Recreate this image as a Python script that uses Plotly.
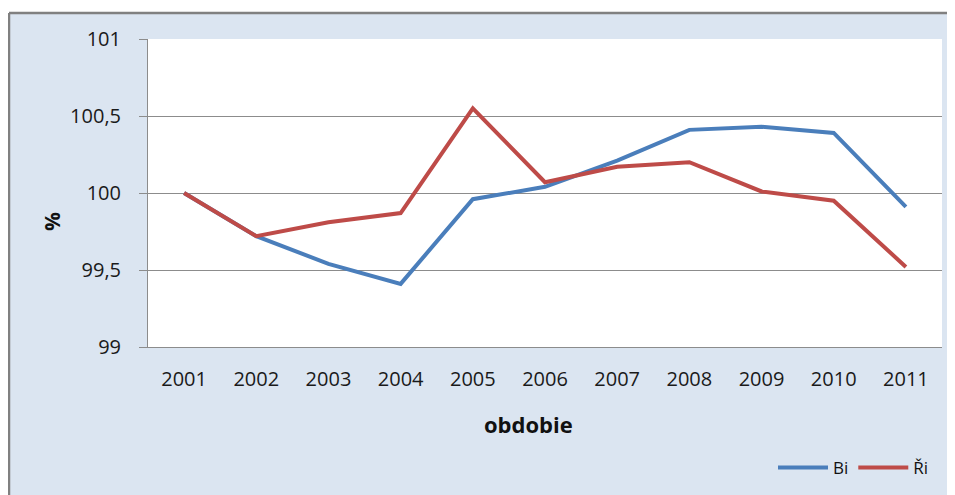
import plotly.graph_objects as go

years = ["2001", "2002", "2003", "2004", "2005", "2006", "2007", "2008", "2009", "2010", "2011"]
bi = [100.0, 99.72, 99.54, 99.41, 99.96, 100.04, 100.21, 100.41, 100.43, 100.39, 99.91]
ri = [100.0, 99.72, 99.81, 99.87, 100.55, 100.07, 100.17, 100.20, 100.01, 99.95, 99.52]
y_ticks = [99, 99.5, 100, 100.5, 101]
y_labels = ["99", "99,5", "100", "100,5", "101"]

FONT = "Open Sans"
BG = "#DBE5F1"
OFF = 8  # page body margin
W, H = 955 - OFF, 495 - OFF
ML, MR, MT, MB = 148 - OFF, 13, 39 - OFF, 148
PW, PH = W - ML - MR, H - MT - MB


def px(x):
    """screen x -> paper x"""
    return (x - OFF - ML) / PW


def py(y):
    """screen y -> paper y"""
    return (H - MB - (y - OFF)) / PH


fig = go.Figure()
fig.add_trace(go.Scatter(x=years, y=bi, mode="lines", name="Bi",
                         line=dict(color="#4A7EBB", width=4)))
fig.add_trace(go.Scatter(x=years, y=ri, mode="lines", name="Ři",
                         line=dict(color="#BE4B48", width=4)))

bx, by = px(OFF + 1), py(13)
fig.update_layout(
    width=W, height=H,
    margin=dict(l=ML, r=MR, t=MT, b=MB, autoexpand=False),
    paper_bgcolor=BG,
    plot_bgcolor="white",
    font=dict(family=FONT, size=20, color="#1a1a1a"),
    showlegend=True,
    legend=dict(orientation="h", x=px(934), xanchor="right", y=py(468), yanchor="middle",
                font=dict(size=17, family=FONT, color="#111111"), bgcolor="rgba(0,0,0,0)",
                itemwidth=50, tracegroupgap=0),
    shapes=[
        dict(type="rect", xref="paper", yref="paper", x0=px(-10), x1=px(W + 30), y0=by, y1=py(-10),
             fillcolor="white", line=dict(width=0), layer="below"),
        dict(type="line", xref="paper", yref="paper", x0=bx, x1=px(W + 30), y0=by, y1=by,
             line=dict(color="#808080", width=2.5)),
        dict(type="line", xref="paper", yref="paper", x0=bx, x1=bx, y0=by, y1=py(H + 30),
             line=dict(color="#808080", width=2.5)),
    ],
    annotations=[
        dict(text="<b>obdobie</b>", xref="paper", yref="paper", x=px(528), y=py(424),
             xanchor="center", yanchor="middle", showarrow=False,
             font=dict(size=22, family=FONT, color="#111111")),
        dict(text="<b>%</b>", xref="paper", yref="paper", x=px(52), y=py(222),
             xanchor="center", yanchor="middle", showarrow=False, textangle=-90,
             font=dict(size=21, family=FONT, color="#111111")),
    ],
)
fig.update_xaxes(type="category", range=[-0.5, 10.5], showgrid=False,
                 showline=True, linecolor="#8c8c8c", linewidth=1,
                 ticks="", ticklabelstandoff=14, zeroline=False, automargin=False)
fig.update_yaxes(range=[99, 101], tickvals=y_ticks, ticktext=y_labels,
                 showgrid=True, gridcolor="#8c8c8c", gridwidth=1,
                 showline=True, linecolor="#8c8c8c", linewidth=1,
                 ticks="outside", ticklen=8, tickcolor="#8c8c8c",
                 ticklabelstandoff=14, zeroline=False, automargin=False)

fig.write_html("out.html")
